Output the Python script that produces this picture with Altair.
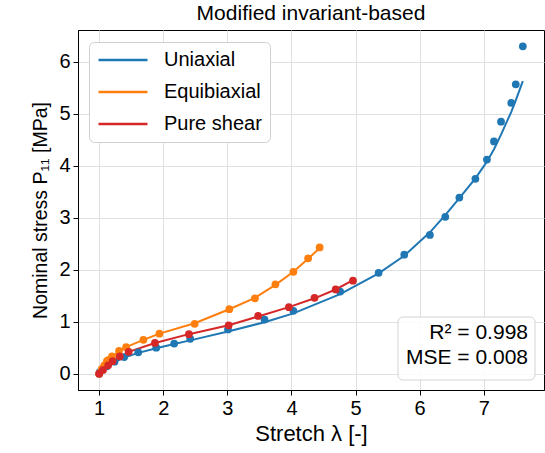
import altair as alt
import pandas as pd

# ---- experimental data (Treloar-type) ----
uni_stretch = [1.0, 1.01, 1.12, 1.24, 1.39, 1.61, 1.89, 2.17, 2.42, 3.01, 3.58, 4.03, 4.76,
               5.36, 5.76, 6.16, 6.40, 6.62, 6.87, 7.05, 7.16, 7.27, 7.43, 7.50, 7.61]
uni_stress = [0.0, 0.03, 0.14, 0.23, 0.32, 0.41, 0.50, 0.58, 0.67, 0.85, 1.04, 1.21, 1.58,
              1.94, 2.29, 2.67, 3.02, 3.39, 3.75, 4.12, 4.47, 4.85, 5.21, 5.57, 6.30]

equi_stretch = [1.0, 1.04, 1.08, 1.12, 1.14, 1.20, 1.31, 1.42, 1.69, 1.94, 2.49, 3.03,
                3.43, 3.75, 4.03, 4.26, 4.44]
equi_stress = [0.0, 0.09, 0.16, 0.24, 0.26, 0.33, 0.44, 0.51, 0.65, 0.77, 0.96, 1.24,
               1.45, 1.72, 1.96, 2.22, 2.43]

ps_stretch = [1.0, 1.06, 1.14, 1.21, 1.32, 1.46, 1.87, 2.40, 3.02, 3.48, 3.96, 4.36, 4.69, 4.96]
ps_stress = [0.0, 0.07, 0.16, 0.24, 0.33, 0.42, 0.59, 0.76, 0.93, 1.11, 1.28, 1.46, 1.62, 1.79]

# ---- model predictions ----
uni_model_stretch = [1.0, 1.12, 1.24, 1.39, 1.61, 1.89, 2.17, 2.42, 3.01, 3.58, 4.03, 4.76,
                     5.36, 5.76, 6.16, 6.40, 6.62, 6.87, 7.05, 7.16, 7.27, 7.43, 7.50, 7.61]
uni_model_stress = [0.0, 0.13, 0.22, 0.31, 0.40, 0.49, 0.57, 0.64, 0.81, 0.99, 1.16, 1.53,
                    1.93, 2.27, 2.72, 3.05, 3.38, 3.76, 4.08, 4.32, 4.60, 5.04, 5.26, 5.63]

equi_model_stretch = equi_stretch
equi_model_stress = [0.0, 0.08, 0.16, 0.23, 0.26, 0.33, 0.43, 0.51, 0.65, 0.77, 0.97, 1.24,
                     1.46, 1.71, 1.96, 2.21, 2.42]

ps_model_stretch = ps_stretch
ps_model_stress = [0.0, 0.07, 0.16, 0.23, 0.32, 0.42, 0.59, 0.76, 0.93, 1.10, 1.28, 1.45, 1.62, 1.80]

cases = ["Uniaxial", "Equibiaxial", "Pure shear"]
colors = ["#1f77b4", "#ff7f0e", "#d62728"]

stat_labels = ["R² = 0.998", "MSE = 0.008"]

def frame(xs, ys, name):
    return pd.DataFrame({"stretch": xs, "stress": ys, "case": name})

data_df = pd.concat([
    frame(uni_stretch, uni_stress, cases[0]),
    frame(equi_stretch, equi_stress, cases[1]),
    frame(ps_stretch, ps_stress, cases[2]),
])
model_df = pd.concat([
    frame(uni_model_stretch, uni_model_stress, cases[0]),
    frame(equi_model_stretch, equi_model_stress, cases[1]),
    frame(ps_model_stretch, ps_model_stress, cases[2]),
])

FONT = "Liberation Sans"

xscale = alt.Scale(domain=[0.6695, 7.9405], nice=False, zero=False)
yscale = alt.Scale(domain=[-0.315, 6.615], nice=False, zero=False)
cscale = alt.Scale(domain=cases, range=colors)

xenc = alt.X("stretch:Q", scale=xscale,
             axis=alt.Axis(title="Stretch λ [-]", values=[1, 2, 3, 4, 5, 6, 7], format="d"))
yenc = alt.Y("stress:Q", scale=yscale,
             axis=alt.Axis(title="Nominal stress P₁₁ [MPa]", values=[0, 1, 2, 3, 4, 5, 6],
                           format="d", titleFontSize=19.5))

lines = alt.Chart(model_df).mark_line(strokeWidth=2).encode(
    x=xenc, y=yenc,
    color=alt.Color("case:N", scale=cscale, sort=cases,
                    legend=alt.Legend(title=None, orient="none", legendX=11, legendY=12,
                                      symbolType="stroke", symbolSize=2400,
                                      symbolStrokeWidth=2.5, labelFontSize=20,
                                      labelFont=FONT, rowPadding=12, clipHeight=20,
                                      labelOffset=15, padding=8, fillColor="white",
                                      strokeColor="#d0d0d0", cornerRadius=5)),
    detail="case:N",
    order="stretch:Q",
)

points = alt.Chart(data_df).mark_circle(size=60, opacity=1).encode(
    x=xenc, y=yenc,
    color=alt.Color("case:N", scale=cscale, legend=None),
)

box = alt.Chart(pd.DataFrame({"a": [0]})).mark_rect(
    fill="white", stroke="#d0d0d0", cornerRadius=5, opacity=0.9
).encode(x=alt.value(320), x2=alt.value(457), y=alt.value(287), y2=alt.value(350))

stat1 = alt.Chart(pd.DataFrame({"label": [stat_labels[0]]})).mark_text(
    align="right", baseline="middle", fontSize=21, font=FONT, color="black"
).encode(x=alt.value(450), y=alt.value(303), text="label:N")

stat2 = alt.Chart(pd.DataFrame({"label": [stat_labels[1]]})).mark_text(
    align="right", baseline="middle", fontSize=21, font=FONT, color="black"
).encode(x=alt.value(450), y=alt.value(328), text="label:N")

chart = alt.layer(lines, points, box, stat1, stat2).properties(
    width=466, height=360,
    title=alt.TitleParams("Modified invariant-based", fontSize=21, font=FONT,
                          fontWeight="normal", offset=6),
    autosize=alt.AutoSizeParams(type="none"),
    padding={"left": 78, "top": 30, "right": 1, "bottom": 63},
).configure_view(
    stroke="black", strokeWidth=1
).configure_axis(
    labelFont=FONT, titleFont=FONT, labelFontSize=20, titleFontSize=22,
    titleFontWeight="normal", labelColor="black", titleColor="black",
    gridColor="#e0e0e0", gridWidth=1, domainColor="black", tickColor="black",
    tickSize=5, labelPadding=3,
).configure_axisX(titlePadding=5).configure_axisY(titlePadding=8)

chart.save("out.html", embed_options={"renderer": "svg", "actions": False})
